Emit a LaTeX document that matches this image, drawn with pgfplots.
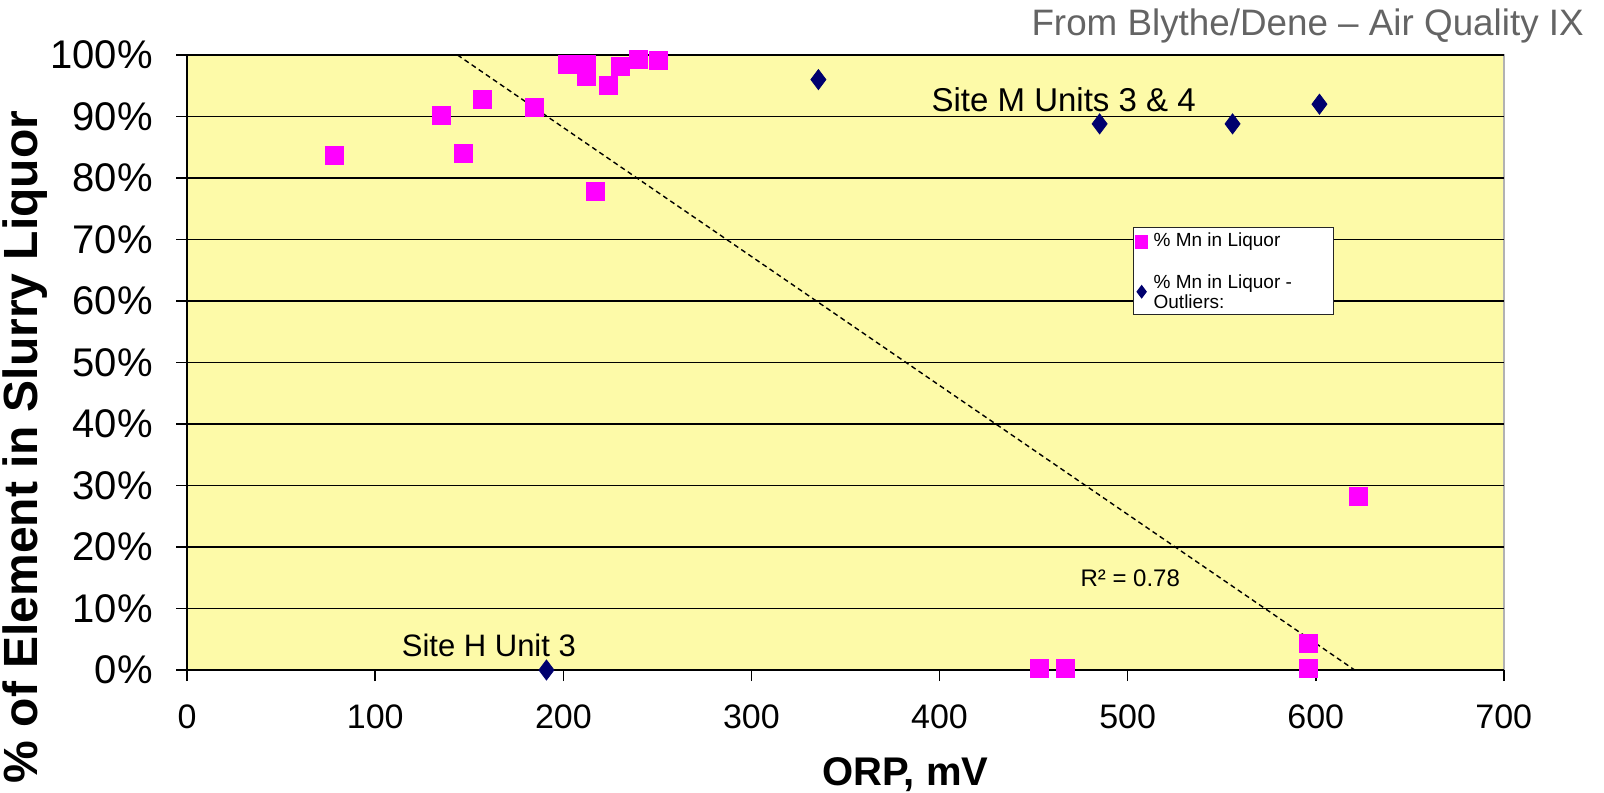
\documentclass[border=0pt]{standalone}
\usepackage{fontspec}
\setmainfont{Liberation Sans}
\usepackage{pgfplots}
\pgfplotsset{compat=1.18}
\definecolor{plotbg}{RGB}{253,250,168}
\definecolor{mnpink}{RGB}{255,0,255}
\definecolor{mnnavy}{RGB}{0,0,110}
\definecolor{titlegray}{RGB}{100,100,100}

\begin{document}
\begin{tikzpicture}
\begin{axis}[
  at={(0,0)}, anchor=south west,
  scale only axis, width=658.3pt, height=307.5pt,
  xmin=0, xmax=700, ymin=0, ymax=100,
  xtick={0,100,...,700}, ytick={0,10,...,100},
  axis x line*=bottom, axis y line*=left,
  axis line style={black, line width=0.9pt},
  axis background/.style={fill=plotbg, draw=gray!60, line width=0.8pt},
  tick align=outside, major tick length=5.5pt,
  tick style={black, line width=0.8pt},
  ymajorgrids, grid style={black, line width=0.8pt},
  clip=false,
  /pgf/number format/assume math mode=true,
  yticklabel={\pgfmathprintnumber[fixed,precision=0]{\tick}\%},
  xticklabel={\pgfmathprintnumber[fixed,precision=0]{\tick}},
  yticklabel style={inner sep=0pt, xshift=-11.5pt, font=\fontsize{20}{24}\selectfont},
  xticklabel style={inner sep=0pt, yshift=-11.5pt, font=\fontsize{17}{20}\selectfont},
  xlabel={ORP, mV},
  xlabel style={at={(axis description cs:0.5455,-0.1698)}, anchor=center, font=\fontsize{20}{24}\selectfont\bfseries},
  ylabel={\% of Element in Slurry Liquor},
  ylabel style={at={(axis description cs:-0.1228,0.3626)}, anchor=center, font=\fontsize{24}{28}\selectfont\bfseries},
  legend style={at={(0.7184,0.7203)}, anchor=north west, draw=black!85, line width=0.6pt, fill=white,
    font=\fontsize{9.5}{8.6}\selectfont, inner xsep=1pt, inner ysep=1.8pt, row sep=10pt, column sep=2pt,
    nodes={inner sep=1pt, text depth=}},
  legend cell align=left,
  legend image code/.code={\draw[#1, mark size=3pt] plot coordinates {(0pt,0pt)};},
]
\addplot[black, line width=0.7pt, dash pattern=on 2.5pt off 1.8pt, forget plot] coordinates {(143.7,100) (620.7,0)};

\addplot[only marks, mark=square*, mark size=4.5pt, color=mnpink, mark options={draw=mnpink, fill=mnpink}] coordinates {
(78.5,83.7) (135.4,90.2) (146.6,84.0) (156.7,92.7) (184.6,91.4)
(202,98.5) (212,98.5) (212,96.6) (224,95.1) (230.5,98.2) (240,99.3) (250.5,99.1)
(217,77.8) (453,0.3) (467,0.3) (596,4.4) (596,0.3) (622.5,28.3)
};
\addlegendentry{\parbox[t]{88pt}{\raggedright \% Mn in Liquor}}

\addplot[only marks, mark=diamond*, mark size=5pt, color=mnnavy, mark options={draw=mnnavy, fill=mnnavy}] coordinates {
(335.6,96.0) (485.1,88.8) (555.8,88.8) (602.0,92.0) (191.0,0.0)
};
\addlegendentry{\parbox[t]{88pt}{\raggedright \% Mn in Liquor -\\Outliers:}}

\node[font=\fontsize{16.5}{19}\selectfont] at (axis cs:466,92.8) {Site M Units 3 \& 4};
\node[font=\fontsize{15.5}{18}\selectfont] at (axis cs:160.4,4.0) {Site H Unit 3};
\node[font=\fontsize{12}{14}\selectfont] at (axis cs:501.4,15) {R² = 0.78};
\node[anchor=east, text=titlegray, font=\fontsize{18.4}{22}\selectfont, inner sep=0pt] at (axis description cs:1.061,1.0478) {From Blythe/Dene – Air Quality IX};
\end{axis}
\pgfresetboundingbox
\path[use as bounding box] (-93.6pt,-61pt) rectangle (708.4pt,335pt);
\end{tikzpicture}
\end{document}
